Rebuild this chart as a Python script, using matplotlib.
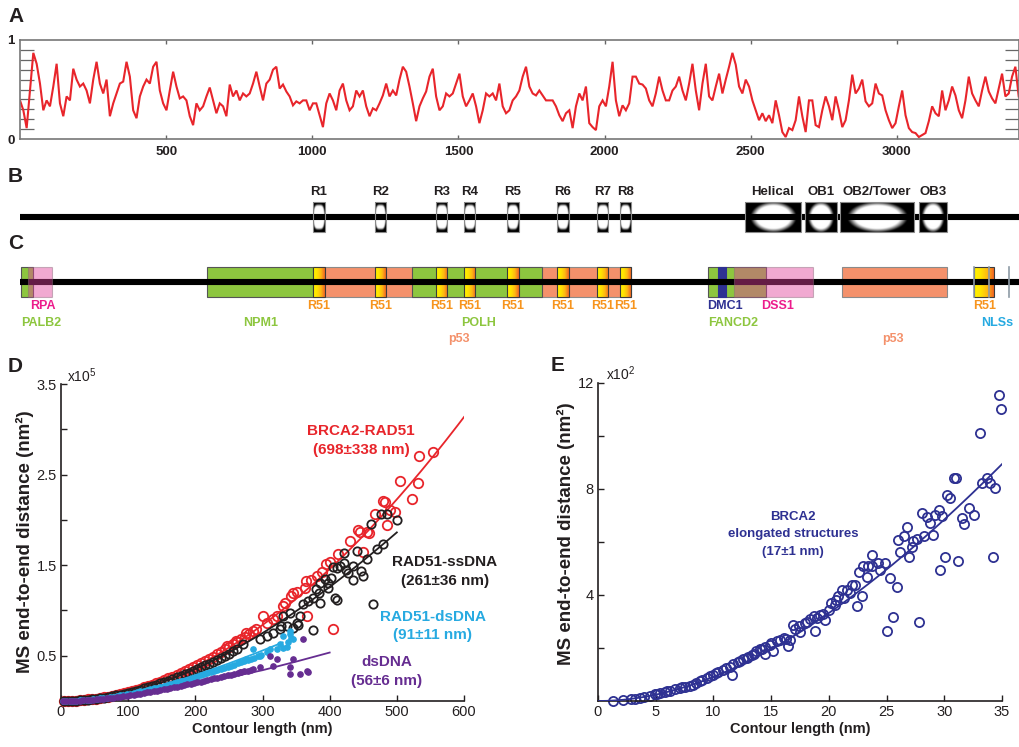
import numpy as np
import matplotlib
matplotlib.use("Agg")
import matplotlib.pyplot as plt
from matplotlib.patches import Rectangle
from matplotlib.colors import LinearSegmentedColormap

plt.rcParams['font.family'] = ['Liberation Sans', 'DejaVu Sans']
plt.rcParams['mathtext.fontset'] = 'custom'
plt.rcParams['mathtext.rm'] = 'Liberation Sans'
plt.rcParams['mathtext.bf'] = 'Liberation Sans:bold'

# ---------------------------------------------------------------- data
PROTEIN_LENGTH = 3418
PROFILE_STEP = 11.39          # residues between profile samples

# A: per-residue profile score (0-1) along BRCA2
profile_score = [
    .39, .29, .11, .49, .87, .76, .56, .29, .39, .33,
    .53, .76, .36, .23, .43, .39, .71, .60, .53, .56,
    .49, .36, .60, .78, .56, .46, .60, .23, .36, .46,
    .56, .58, .78, .63, .29, .21, .43, .53, .60, .56,
    .73, .78, .49, .36, .29, .49, .68, .53, .41, .43,
    .39, .23, .14, .36, .29, .33, .43, .52, .39, .26,
    .36, .33, .23, .55, .43, .49, .39, .46, .43, .46,
    .56, .68, .53, .39, .56, .60, .70, .73, .51, .55,
    .48, .43, .34, .38, .36, .39, .39, .29, .36, .36,
    .24, .12, .36, .46, .39, .29, .49, .56, .39, .29,
    .33, .49, .43, .49, .33, .23, .31, .29, .36, .44,
    .56, .43, .49, .44, .60, .73, .68, .53, .36, .18,
    .33, .41, .48, .63, .71, .43, .29, .33, .46, .43,
    .46, .56, .66, .43, .33, .39, .46, .33, .16, .29,
    .46, .43, .46, .39, .56, .33, .26, .29,
    .39, .43, .49, .63, .73, .53, .46, .44, .49, .44,
    .39, .39, .39, .33, .24, .18, .26, .29, .11, .33,
    .46, .39, .53, .16, .12, .09, .33, .39, .33, .53,
    .78, .39, .23, .34, .29, .36, .63, .63, .56, .55,
    .51, .39, .33, .46, .63, .49, .39, .39, .49, .53,
    .63, .49, .39, .56, .76, .49, .29, .56, .76, .43,
    .39, .53, .66, .46, .60, .73, .87, .75, .53, .46,
    .60, .53, .39, .29, .19, .26, .18, .24, .16, .39,
    .24, .07, .02, .11, .09, .19, .43, .23, .07, .39,
    .39, .14, .12, .29, .43, .33, .19, .43, .29, .12,
    .19, .39, .65, .46, .51, .60, .38, .33, .36, .56,
    .46, .44, .29, .19, .11, .16, .33, .49, .24, .11,
    .07, .06, .02, .04, .06, .18, .33, .26, .23, .49,
    .29, .39, .53, .44, .29, .21, .39, .63, .46, .39,
    .33, .49, .63, .48, .41, .36, .51, .66, .43, .46,
    .63, .73, .43,
]
profile_ticks = [500, 1000, 1500, 2000, 2500, 3000]

# B: structural elements (residue ranges)
brc_names = ['R1', 'R2', 'R3', 'R4', 'R5', 'R6', 'R7', 'R8']
brc_start = [1002, 1215, 1423, 1519, 1666, 1837, 1974, 2053]
brc_end = [1043, 1252, 1461, 1557, 1707, 1878, 2012, 2090]
dbd_names = ['Helical', 'OB1', 'OB2/Tower', 'OB3']
dbd_start = [2480, 2686, 2805, 3076]
dbd_end = [2672, 2795, 3059, 3171]

# C: interaction regions (residue ranges)
green_regions = [(3, 43), (641, 1003), (1341, 1785), (2353, 2551)]     # PALB2, NPM1, POLH, FANCD2
p53_regions = [(1003, 2090), (2811, 3172)]
pink_regions = [(28, 110), (2444, 2714)]                                  # RPA, DSS1
dmc1_region = (2387, 2415)
r51_cterm = (3265, 3333)
nls_sites = [3265, 3314, 3383]
partner_labels = ['RPA', 'PALB2', 'NPM1', 'POLH', 'p53', 'DMC1', 'DSS1',
                  'FANCD2', 'p53', 'R51', 'NLSs']
partner_label_pos = [79, 72, 822, 1570, 1502, 2412, 2593, 2439, 2987, 3301, 3342]
partner_label_row = [0, 1, 1, 1, 2, 0, 0, 1, 2, 0, 1]
partner_label_kind = ['pink', 'green', 'green', 'green', 'p53', 'navy', 'pink',
                      'green', 'p53', 'r51', 'nls']

# D: mean-square end-to-end distance (x1e5 nm^2) vs contour length (nm)
brca2_rad51_len = [4, 10, 16, 22, 28, 34, 40, 46, 52, 58, 64, 70, 76, 82, 88, 94,
                   100, 106, 112, 118, 124, 130, 136, 142, 148, 154, 160, 166, 172,
                   178, 184, 190, 196, 202, 208, 214, 220, 226, 232, 238, 244, 250,
                   256, 262, 268, 274, 280, 286,
                   247, 260, 276, 291, 301, 306, 315, 321, 331, 333, 343, 346, 352,
                   363, 365, 366, 372, 381, 388, 395, 400, 405, 413, 430, 442, 445,
                   449, 455, 459, 467, 479, 482, 486, 490, 498, 504, 523, 532, 533, 554]
brca2_rad51_msd = [.000, .002, .003, .005, .008, .012, .017, .022, .027, .034, .041,
                   .049, .058, .067, .077, .088, .099, .112, .124, .138, .152, .167,
                   .182, .198, .215, .232, .25, .27, .29, .31, .33, .35, .37, .395,
                   .42, .44, .465, .49, .515, .54, .57, .595, .625, .65, .68, .71,
                   .74, .77,
                   .61, .66, .75, .79, .94, .86, .90, .94, 1.05, 1.08, 1.16, 1.19,
                   1.20, 1.25, 1.32, .94, 1.34, 1.38, 1.42, 1.51, 1.54, .80, 1.62,
                   1.77, 1.89, 1.87, 1.65, 1.87, 1.86, 2.07, 2.21, 2.20, 1.94, 2.11,
                   2.09, 2.43, 2.23, 2.41, 2.70, 2.75]

rad51_ss_len = [4, 10, 16, 22, 28, 34, 40, 46, 52, 58, 64, 70, 76, 82, 88, 94, 100,
                106, 112, 118, 124, 130, 136, 142, 148, 154, 160, 166, 172, 178, 184,
                190, 196, 202, 208, 214, 220, 226, 232, 238, 244, 250, 256, 262,
                271, 296, 306, 316, 326, 328, 331, 336, 341, 346, 351, 353, 356, 360,
                368, 375, 375, 380, 384, 385, 385, 393, 397, 398, 402, 405, 408, 411,
                411, 415, 422, 422, 425, 428, 434, 435, 441, 447, 449, 456, 461, 465,
                470, 476, 480, 486, 500]
rad51_ss_msd = [.000, .001, .002, .005, .008, .011, .015, .020, .026, .032, .038,
                .046, .054, .062, .071, .081, .092, .102, .114, .126, .139, .152,
                .166, .180, .195, .210, .226, .243, .26, .277, .295, .313, .332,
                .352, .372, .392, .413, .434, .456, .478, .50, .523, .547, .57,
                .63, .68, .72, .75, .79, .83, .94, .83, .97, .81, .86, .84, .94, 1.07,
                1.10, 1.14, .78, 1.24, 1.19, 1.30, 1.08, 1.35, 1.30, 1.25, 1.36, 1.48,
                1.14, 1.47, 1.11, 1.49, 1.63, 1.52, 1.45, 1.41, 1.49, 1.34, 1.66, 1.43,
                1.38, 1.57, 1.95, 1.07, 1.68, 2.07, 1.73, 2.07, 2.00]

rad51_ds_len = [3, 8, 13, 18, 23, 28, 33, 38, 43, 48, 53, 58, 63, 68, 73, 78, 83, 88,
                93, 98, 103, 108, 113, 118, 123, 128, 133, 138, 143, 148, 153, 158,
                163, 168, 173, 178, 183, 188, 193, 198, 203, 208, 213, 218, 223, 228,
                233, 238, 243, 248, 253, 258, 263, 268, 273, 278, 283, 288, 293, 298,
                276, 286, 296, 306, 311, 321, 326, 331, 331, 336, 338, 341, 343, 346, 341]
rad51_ds_msd = [.0001, .0006, .0015, .003, .0047, .007, .0095, .0125, .016, .0195,
                .0235, .028, .0325, .038, .043, .049, .055, .061, .068, .075, .082,
                .089, .097, .105, .113, .121, .13, .139, .148, .157, .166, .176, .185,
                .195, .206, .216, .226, .237, .248, .259, .27, .282, .293, .305, .316,
                .328, .34, .352, .365, .377, .39, .402, .415, .428, .441, .454, .467,
                .48, .494, .507,
                .46, .57, .50, .54, .57, .57, .63, .59, .72, .60, .65, .77, .70, .68, .74]

dsdna_len = [3, 8, 13, 18, 23, 28, 33, 38, 43, 48, 53, 58, 63, 68, 73, 78, 83, 88, 93,
             98, 103, 108, 113, 118, 123, 128, 133, 138, 143, 148, 153, 158, 163, 168,
             173, 178, 183, 188, 193, 198, 203, 208, 213, 218, 223, 228, 233, 238,
             243, 248, 253, 258, 263, 268, 273, 278, 283,
             266, 286, 296, 311, 316, 321, 341, 341, 346, 356, 361, 366, 368]
dsdna_msd = [0, .0005, .001, .002, .003, .005, .007, .009, .012, .015, .018, .021,
             .025, .029, .033, .037, .042, .047, .052, .058, .063, .069, .075, .081,
             .088, .094, .101, .108, .115, .122, .129, .136, .144, .151, .159, .167,
             .175, .183, .191, .199, .207, .215, .223, .232, .240, .249, .257, .266,
             .275, .283, .292, .301, .31, .318, .327, .336, .345,
             .32, .35, .37, .50, .39, .46, .37, .30, .46, .30, .69, .33, .32]

# fitted curves: 2D worm-like chain for the RAD51 filaments, tabulated fit for dsDNA
d_persistence = [698, 261, 91]            # nm
d_fit_end = [600, 500, 330]               # nm
dsdna_fit_len = [0, 50, 100, 150, 200, 250, 300, 350, 400]
dsdna_fit_msd = [0, .02, .065, .12, .19, .26, .34, .435, .535]
d_names = ['BRCA2-RAD51', 'RAD51-ssDNA', 'RAD51-dsDNA', 'dsDNA']
d_errors = ['(698\u00b1338 nm)', '(261\u00b136 nm)', '(91\u00b111 nm)', '(56\u00b16 nm)']

# E: BRCA2 elongated structures (x1e2 nm^2)
brca2_len = [1.3, 2.2, 2.9, 3.2, 3.6, 4.0, 4.5, 4.9, 5.4, 5.8,
             6.2, 6.7, 7.1, 7.5, 8.0, 8.5, 9.0, 9.4, 10.0, 10.4,
             10.8, 11.1, 11.6, 11.7, 12.1, 12.6, 13.0, 13.5, 13.7, 14.0,
             14.5, 14.5, 14.9, 15.2, 15.5, 15.8, 16.1, 16.5, 16.6, 16.9,
             17.4, 17.5, 17.9, 18.4, 18.7, 18.8, 19.2, 19.7, 20.0, 20.2,
             20.5, 20.8, 21.3, 21.6, 21.8, 22.0, 22.3, 22.4, 22.6, 22.9,
             23.0, 23.3, 23.4, 23.7, 23.7, 24.3, 24.4, 24.9, 25.0, 25.3,
             25.6, 25.9, 26.0, 26.2, 26.5, 26.8, 26.9, 27.2, 27.3, 27.6,
             27.8, 28.1, 28.2, 28.5, 28.8, 29.0, 29.2, 29.5, 29.6, 29.8,
             30.1, 30.2, 30.5, 30.8, 31.0, 31.2, 31.5, 31.7, 32.1, 32.6,
             33.1, 33.3, 33.7, 34.0, 34.2, 34.4, 34.7, 34.9,
             5.1, 6.0, 7.3, 8.2, 8.8, 9.7, 10.2, 11.4, 12.3, 12.9,
             13.3, 14.2, 15.0, 16.3, 17.1, 18.1, 19.0, 19.5, 20.6, 21.1]
brca2_msd = [0.0, 0.04, 0.06, 0.08, 0.11, 0.16, 0.19, 0.25, 0.29, 0.34,
             0.38, 0.44, 0.50, 0.54, 0.56, 0.69, 0.79, 0.88, 1.00, 1.09,
             1.17, 1.25, 0.97, 1.38, 1.47, 1.57, 1.67, 1.76, 1.88, 1.97,
             2.03, 1.76, 2.13, 1.88, 2.26, 2.32, 2.38, 2.09, 2.32, 2.88,
             2.82, 2.60, 2.95, 3.10, 3.20, 2.66, 3.26, 3.07, 3.45, 3.70,
             3.64, 3.95, 3.89, 4.20, 4.08, 4.39, 4.39, 3.57, 4.85, 3.95,
             5.08, 4.68, 5.08, 5.52, 5.08, 5.20, 4.95, 5.20, 2.63, 4.64,
             3.16, 4.30, 6.06, 5.64, 6.24, 6.55, 5.45, 5.83, 6.02, 6.11,
             2.97, 7.09, 6.21, 6.96, 6.71, 6.27, 7.02, 7.21, 4.93, 6.98,
             5.45, 7.77, 7.65, 8.40, 8.40, 5.30, 6.90, 6.68, 7.27, 7.02,
             10.12, 8.21, 8.43, 8.21, 5.42, 8.03, 11.54, 11.01,
             0.27, 0.36, 0.52, 0.62, 0.74, 0.93, 1.04, 1.30, 1.52, 1.62,
             1.72, 1.98, 2.20, 2.33, 2.70, 3.00, 3.15, 3.28, 3.80, 4.17]
e_persistence = 17
e_fit_end = 35

# ---------------------------------------------------------------- style
INK = '#231f20'
RED = '#e8252b'
CYAN = '#27aae1'
PURPLE = '#662d91'
NAVY = '#2e3192'
GREEN = '#8dc63f'
SALMON = '#f4916b'
PINK = '#e0409a'
ORANGE = '#f7941d'
label_colors = {'pink': '#ec1c8c', 'green': GREEN, 'p53': SALMON, 'navy': NAVY,
                'r51': ORANGE, 'nls': CYAN}

W, H = 1020, 747
fig = plt.figure(figsize=(W / 100, H / 100), dpi=100)


def add_axes_px(left, top, right, bottom):
    return fig.add_axes([left / W, 1 - bottom / H, (right - left) / W, (bottom - top) / H])


def text_px(x, y, s, **kw):
    fig.text(x / W, 1 - y / H, s, **kw)


def wlc_msd(L, P):
    """Mean-square end-to-end distance of a 2D worm-like chain."""
    L = np.asarray(L, float)
    return 4 * P * L * (1 - 2 * P / L * (1 - np.exp(-L / (2 * P))))


for letter, (lx, ly) in zip('ABCDE', [(8, 17), (8, 177), (8, 243), (8, 367), (551, 365)]):
    text_px(lx, ly, letter, fontsize=15, fontweight='bold', color=INK, ha='left', va='center')

# ---------------------------------------------------------------- A
ax = add_axes_px(20, 40, 1019, 139)
residue = np.arange(len(profile_score)) * PROFILE_STEP
ax.plot(residue, profile_score, color=RED, lw=1.5, solid_joinstyle='miter')
ax.set_xlim(0, PROTEIN_LENGTH)
ax.set_ylim(0, 1)
ax.set_xticks(profile_ticks)
ax.set_xticklabels([str(t) for t in profile_ticks], fontweight='bold', fontsize=9.5, color=INK)
ax.set_yticks([0, 1])
ax.set_yticklabels(['0', '1'], fontweight='bold', fontsize=9.5, color=INK)
ax.set_yticks(np.arange(1, 10) / 10, minor=True)
ax.tick_params(axis='x', which='major', direction='in', top=True, length=3, width=1,
               color='#666666', pad=5)
ax.tick_params(axis='y', which='major', length=0, pad=4)
ax.tick_params(axis='y', which='minor', direction='in', left=True, right=True,
               length=10, width=0.9, color='#666666')
for sp in ax.spines.values():
    sp.set_color('#777777')
    sp.set_linewidth(1.2)

# ---------------------------------------------------------------- B and C
ax = add_axes_px(20, 150, 1019, 350)
ax.set_xlim(0, PROTEIN_LENGTH)
ax.set_ylim(350, 150)
ax.axis('off')

B_LINE, B_TOP, B_BOT, B_LABEL = 217, 202, 232, 192
C_LINE, C_TOP, C_BOT = 282, 267, 297
C_ROWS = [306, 323, 339]
BAR_LW = 4.4


def glow_box(x0, x1, rx, ry, px, gain):
    u = np.linspace(-1, 1, 90)
    v = np.linspace(-1, 1, 50)
    U, V = np.meshgrid(u, v)
    r = np.abs(U / rx) ** px + (V / ry) ** 2
    img = np.clip(gain * (1 - r), 0, 1)
    ax.imshow(img, cmap='gray', vmin=0, vmax=1, extent=(x0, x1, B_BOT, B_TOP),
              aspect='auto', interpolation='bicubic', zorder=2)
    ax.add_patch(Rectangle((x0, B_TOP), x1 - x0, B_BOT - B_TOP, fill=False,
                           ec='#8a8a8a', lw=0.8, zorder=4))


ax.plot([0, PROTEIN_LENGTH], [B_LINE, B_LINE], color='black', lw=BAR_LW,
        solid_capstyle='butt', zorder=3)
for name, s, e in zip(brc_names, brc_start, brc_end):
    glow_box(s, e, 1.0, 0.9, 4, 3.0)
    ax.text((s + e) / 2, B_LABEL, name, ha='center', va='center', fontsize=9.5,
            fontweight='bold', color=INK)
for name, s, e in zip(dbd_names, dbd_start, dbd_end):
    glow_box(s, e, 0.82, 1.05, 2, 2.2)
    ax.text((s + e) / 2, B_LABEL, name, ha='center', va='center', fontsize=9.5,
            fontweight='bold', color=INK)

r51_cmap = LinearSegmentedColormap.from_list(
    'r51', ['#fff200', '#ffe400', '#fdb913', '#f26522'])


def region(s, e, color, z, ec='#555555', alpha=1.0):
    ax.add_patch(Rectangle((s, C_TOP), e - s, C_BOT - C_TOP, fc=color, ec=ec,
                           lw=0.8, alpha=alpha, zorder=z))


def r51_box(s, e):
    grad = np.linspace(0, 1, 64)[None, :]
    ax.imshow(grad, cmap=r51_cmap, extent=(s, e, C_BOT, C_TOP), aspect='auto',
              interpolation='bilinear', zorder=2.5)
    ax.add_patch(Rectangle((s, C_TOP), e - s, C_BOT - C_TOP, fill=False,
                           ec='#3c3c3c', lw=0.8, zorder=2.6))


for s, e in p53_regions:
    region(s, e, SALMON, 1.5, ec='#8a8a8a')
for s, e in green_regions:
    region(s, e, GREEN, 2)
region(*dmc1_region, NAVY, 2.4, ec=NAVY)
for s, e in zip(brc_start, brc_end):
    r51_box(s, e)
r51_box(*r51_cterm)
ax.plot([0, PROTEIN_LENGTH], [C_LINE, C_LINE], color='black', lw=BAR_LW,
        solid_capstyle='butt', zorder=3)
for s, e in pink_regions:
    region(s, e, PINK, 4, ec='#8a6a7a', alpha=0.45)
for n in nls_sites:
    ax.plot([n, n], [C_TOP, C_BOT], color='#8e9ba6', lw=1.2, zorder=5)

for s, e in zip(brc_start, brc_end):
    ax.text((s + e) / 2, C_ROWS[0], 'R51', ha='center', va='center', fontsize=9,
            fontweight='bold', color=ORANGE)
for name, pos, row, kind in zip(partner_labels, partner_label_pos, partner_label_row,
                                partner_label_kind):
    ax.text(pos, C_ROWS[row], name, ha='center', va='center', fontsize=9,
            fontweight='bold', color=label_colors[kind])


# ---------------------------------------------------------------- D and E styling
def style_xy(ax):
    for side in ('top', 'right'):
        ax.spines[side].set_visible(False)
    for side in ('left', 'bottom'):
        ax.spines[side].set_color(INK)
        ax.spines[side].set_linewidth(1.2)
    ax.tick_params(which='both', direction='in', length=4.5, width=1, color=INK,
                   labelsize=10.5, labelcolor=INK, pad=3)


# ---------------------------------------------------------------- D
ax = add_axes_px(61, 384, 464, 701)
series = [(brca2_rad51_len, brca2_rad51_msd, RED),
          (rad51_ss_len, rad51_ss_msd, INK),
          (rad51_ds_len, rad51_ds_msd, CYAN),
          (dsdna_len, dsdna_msd, PURPLE)]
for i, (L, m, c) in enumerate(series):
    if i < 2:
        ax.plot(L, m, 'o', mfc='none', mec=c, mew=1.3, ms=6.8 if i == 0 else 6.0,
                zorder=2 + i, clip_on=False)
    else:
        ax.plot(L, m, 'o', mfc=c, mec=c, ms=3.8, zorder=2 + i, clip_on=False)
    if i < 3:
        Lf = np.linspace(0.5, d_fit_end[i], 200)
        ax.plot(Lf, wlc_msd(Lf, d_persistence[i]) / 1e5, color=c, lw=1.3, zorder=2.5 + i)
    else:
        ax.plot(dsdna_fit_len, dsdna_fit_msd, color=c, lw=1.3, zorder=2.5 + i)
ax.set_xlim(0, 600)
ax.set_ylim(0, 3.5)
ax.set_xticks(range(0, 601, 100))
ax.set_yticks([0.5, 1.5, 2.5, 3.5])
ax.set_yticklabels(['0.5', '1.5', '2.5', '3.5'])
ax.set_yticks([1, 2, 3], minor=True)
style_xy(ax)
ax.set_xlabel('Contour length (nm)', fontsize=10.5, fontweight='bold', color=INK,
              labelpad=2)
text_px(25, 542, 'MS end-to-end distance (nm\u00b2)', rotation=90, fontsize=13.5,
        fontweight='bold', color=INK, ha='center', va='center')
text_px(67, 376, r'x10$^{\mathrm{5}}$', fontsize=10, color=INK, ha='left', va='center')

d_label_xy = [(361, 431), (445, 562), (433, 617), (387, 662)]
for (x, y), name, err, (_, _, c) in zip(d_label_xy, d_names, d_errors, series):
    text_px(x, y, name, fontsize=11, fontweight='bold', color=c, ha='center', va='center')
    text_px(x, y + 18.5, err, fontsize=11, fontweight='bold', color=c, ha='center',
            va='center')

# ---------------------------------------------------------------- E
ax = add_axes_px(598, 383, 1002, 701)
ax.plot(brca2_len, brca2_msd, 'o', mfc='none', mec=NAVY, mew=1.3, ms=6.6, zorder=2,
        clip_on=False)
Lf = np.linspace(0.05, e_fit_end, 200)
ax.plot(Lf, wlc_msd(Lf, e_persistence) / 1e2, color=NAVY, lw=1.3, zorder=3)
ax.set_xlim(0, 35)
ax.set_ylim(0, 12)
ax.set_xticks(range(0, 36, 5))
ax.set_yticks([4, 8, 12])
ax.set_yticks([2, 6, 10], minor=True)
style_xy(ax)
ax.set_xlabel('Contour length (nm)', fontsize=10.5, fontweight='bold', color=INK,
              labelpad=2)
text_px(566, 534, 'MS end-to-end distance (nm\u00b2)', rotation=90, fontsize=13.5,
        fontweight='bold', color=INK, ha='center', va='center')
text_px(606, 374, r'x10$^{\mathrm{2}}$', fontsize=10, color=INK, ha='left', va='center')
for dy, line in zip([0, 17, 35], ['BRCA2', 'elongated structures', '(17\u00b11 nm)']):
    text_px(793, 517 + dy, line, fontsize=9.5, fontweight='bold', color=NAVY,
            ha='center', va='center')

fig.savefig('out.png', dpi=100)
